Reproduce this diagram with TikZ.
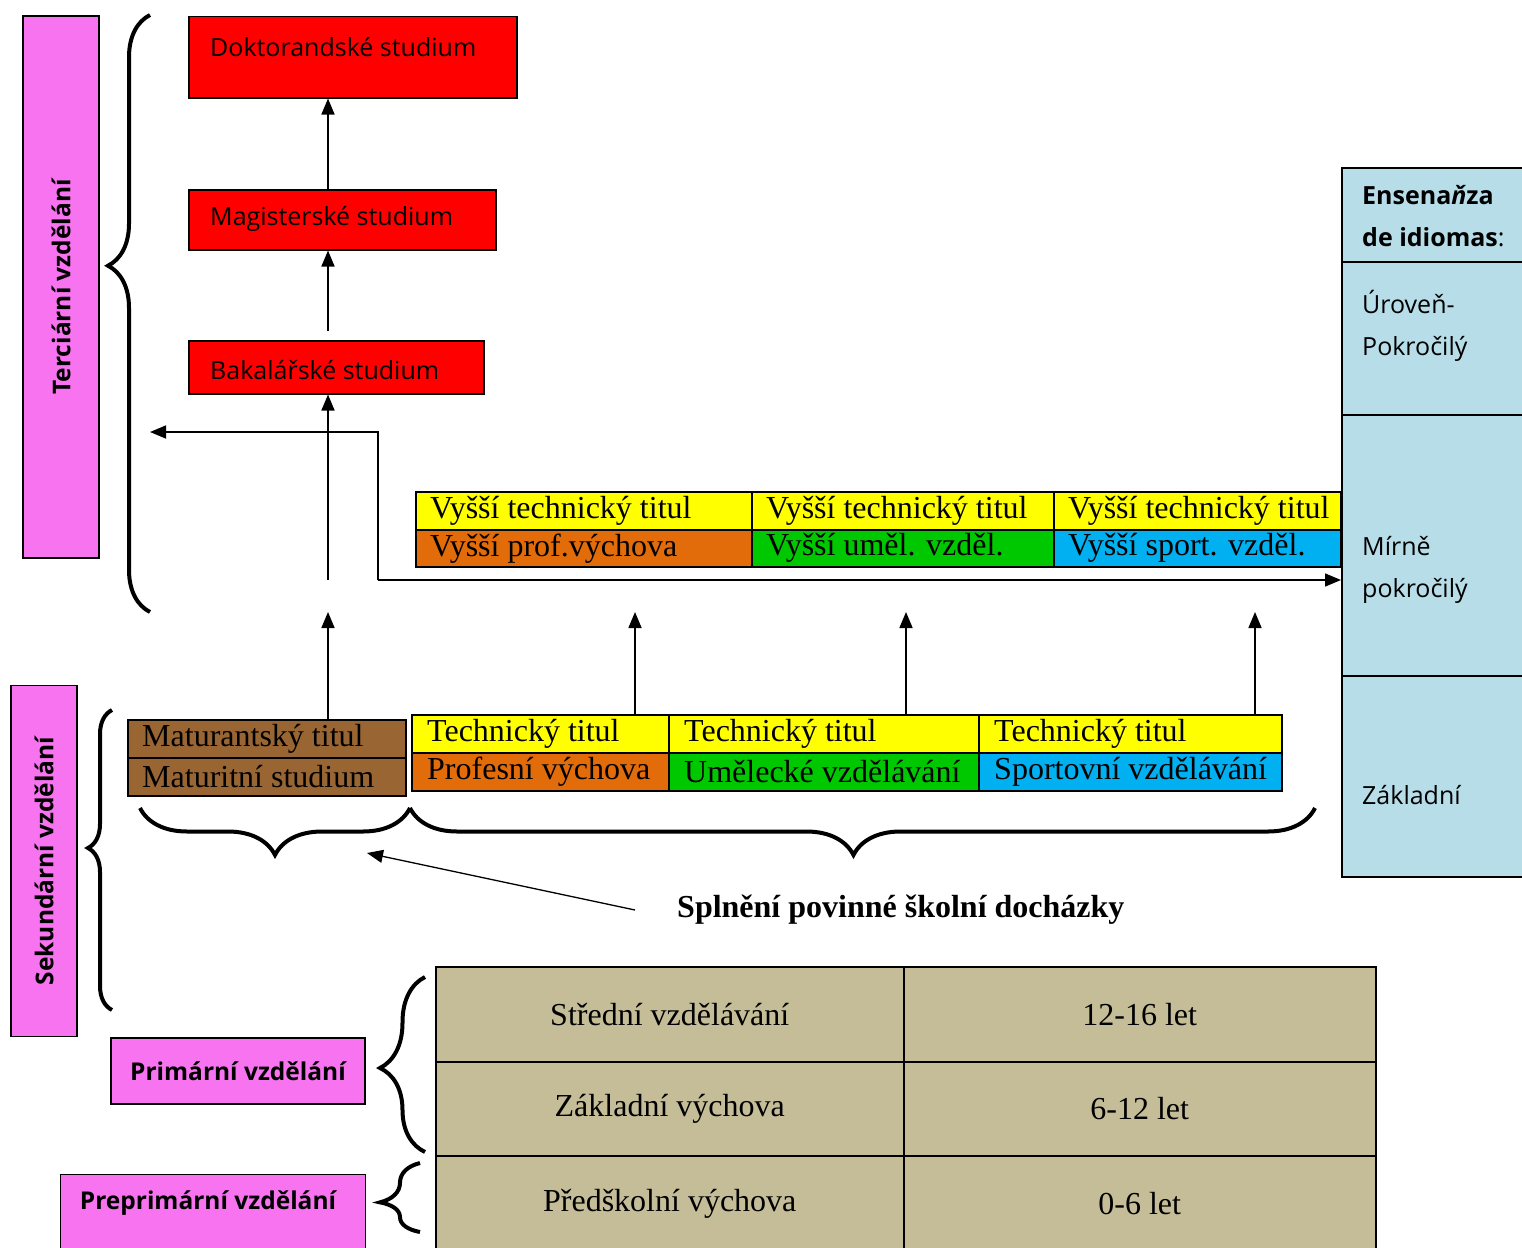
\documentclass[tikz,border=0pt]{standalone}
\usepackage{fontspec}
\setmainfont{Liberation Serif}
\setsansfont{Open Sans}
\usetikzlibrary{arrows.meta,decorations.pathreplacing}

\definecolor{ruzova}{RGB}{247,115,239}
\definecolor{cervena}{RGB}{255,0,0}
\definecolor{zluta}{RGB}{255,255,0}
\definecolor{oranzova}{RGB}{227,108,10}
\definecolor{zelena}{RGB}{0,200,0}
\definecolor{modra}{RGB}{0,176,240}
\definecolor{hneda}{RGB}{153,102,51}
\definecolor{bezova}{RGB}{196,189,151}
\definecolor{svetlemodra}{RGB}{183,221,232}

\tikzset{
  cell/.style={draw, line width=1.5pt, anchor=north west, inner sep=0pt},
  pinkbox/.style={draw, line width=1.2pt, fill=ruzova, inner sep=0pt},
  lbl/.style={anchor=west, inner sep=0pt},
  ser/.style={font=\fontsize{32}{37}\selectfont},
  sans/.style={font=\sffamily\fontsize{25}{30}\selectfont},
  boldsans/.style={font=\sffamily\bfseries\fontsize{24.5}{29}\selectfont},
  arr/.style={-{Triangle[length=16pt,width=13pt]}, line width=1.6pt},
  zavorka/.style={decorate, line width=4pt},
}

\begin{document}
\begin{tikzpicture}[x=1pt, y=-1pt]
    \useasboundingbox (0,0) rectangle (1522,1247);

    % Urovne vzdelani
    \node[pinkbox, boldsans, rotate=90, minimum width=542pt, minimum height=76pt] (terc) at (61,287) {Terciární vzdělání};
    \node[pinkbox, boldsans, rotate=90, minimum width=351pt, minimum height=66pt] (sek) at (44,861) {Sekundární vzdělání};
    \node[pinkbox, boldsans, minimum width=254pt, minimum height=66pt] (prim) at (238,1071) {Primární vzdělání};
    \node[pinkbox, anchor=north west, minimum width=305pt, minimum height=90pt] (preprim) at (60,1174) {};
    \node[boldsans, inner sep=0pt] (preprimtxt) at (208,1203) {Preprimární vzdělání};

    % Terciarni studium
    \node[cell, fill=cervena, minimum width=328pt, minimum height=81pt] (dok) at (188,16) {};
    \node[cell, fill=cervena, minimum width=307pt, minimum height=60pt] (mag) at (188,189) {};
    \node[cell, fill=cervena, minimum width=295pt, minimum height=53pt] (bak) at (188,340) {};
    \node[lbl, sans] (doktxt) at (210,47) {Doktorandské studium};
    \node[lbl, sans] (magtxt) at (210,219) {Magisterské studium};
    \node[lbl, sans] (baktxt) at (210,370) {Bakalářské studium};

    % Vyssi odborne
    \node[cell, fill=zluta, minimum width=336pt, minimum height=38pt] (vt1) at (415,491) {};
    \node[cell, fill=zluta, minimum width=302pt, minimum height=38pt] (vt2) at (751,491) {};
    \node[cell, fill=zluta, minimum width=287pt, minimum height=38pt] (vt3) at (1053,491) {};
    \node[cell, fill=oranzova, minimum width=336pt, minimum height=37pt] (vv1) at (415,529) {};
    \node[cell, fill=zelena, minimum width=302pt, minimum height=37pt] (vv2) at (751,529) {};
    \node[cell, fill=modra, minimum width=287pt, minimum height=37pt] (vv3) at (1053,529) {};
    \foreach \n in {vt1,vt2,vt3}
        \node[lbl, ser] (\n txt) at ([xshift=15pt]\n.west) {Vyšší technický titul};
    \node[lbl, ser] (vv1txt) at ([xshift=15pt]vv1.west) {Vyšší prof.výchova};
    \node[lbl, ser] (vv2txt) at ([xshift=15pt]vv2.west) {Vyšší uměl. vzděl.};
    \node[lbl, ser] (vv3txt) at ([xshift=15pt]vv3.west) {Vyšší sport. vzděl.};

    % Stredni vzdelani
    \node[cell, fill=hneda, minimum width=278pt, minimum height=38pt] (mat1) at (127,719) {};
    \node[cell, fill=hneda, minimum width=278pt, minimum height=38pt] (mat2) at (127,757) {};
    \node[lbl, ser] (mat1txt) at ([xshift=15pt]mat1.west) {Maturantský titul};
    \node[lbl, ser] (mat2txt) at ([xshift=15pt]mat2.west) {Maturitní studium};

    \node[cell, fill=zluta, minimum width=257pt, minimum height=38pt] (tt1) at (411,714) {};
    \node[cell, fill=zluta, minimum width=310pt, minimum height=38pt] (tt2) at (668,714) {};
    \node[cell, fill=zluta, minimum width=303pt, minimum height=38pt] (tt3) at (978,714) {};
    \node[cell, fill=oranzova, minimum width=257pt, minimum height=38pt] (tv1) at (411,752) {};
    \node[cell, fill=zelena, minimum width=310pt, minimum height=38pt] (tv2) at (668,752) {};
    \node[cell, fill=modra, minimum width=303pt, minimum height=38pt] (tv3) at (978,752) {};
    \foreach \n in {tt1,tt2,tt3}
        \node[lbl, ser] (\n txt) at ([xshift=16pt]\n.west) {Technický titul};
    \node[lbl, ser] (tv1txt) at ([xshift=16pt]tv1.west) {Profesní výchova};
    \node[lbl, ser] (tv2txt) at ([xshift=16pt]tv2.west) {Umělecké vzdělávání};
    \node[lbl, ser] (tv3txt) at ([xshift=16pt]tv3.west) {Sportovní vzdělávání};

    % Jazykove vzdelani
    \node[cell, fill=svetlemodra, minimum width=200pt, minimum height=94pt] (jaz) at (1341,167) {};
    \node[cell, fill=svetlemodra, minimum width=200pt, minimum height=153pt] (jaz1) at (1341,261) {};
    \node[cell, fill=svetlemodra, minimum width=200pt, minimum height=261pt] (jaz2) at (1341,414) {};
    \node[cell, fill=svetlemodra, minimum width=200pt, minimum height=201pt] (jaz3) at (1341,675) {};
    \node[lbl, align=left, font=\sffamily\fontsize{25}{42}\selectfont] (jaztxt) at (1362,216) {\textbf{Ensena\textit{ň}za}\\\textbf{de idiomas}:};
    \node[lbl, align=left, font=\sffamily\fontsize{25}{42}\selectfont] (jaz1txt) at (1362,326) {Úroveň-\\Pokročilý};
    \node[lbl, align=left, font=\sffamily\fontsize{25}{42}\selectfont] (jaz2txt) at (1362,570) {Mírně\\pokročilý};
    \node[lbl, sans] (jaz3txt) at (1362,795) {Základní};

    % Povinna skolni dochazka
    \node[cell, fill=bezova, minimum width=468pt, minimum height=95pt, ser] (sv) at (435,966) {Střední vzdělávání};
    \node[cell, fill=bezova, minimum width=472pt, minimum height=95pt, ser] (svr) at (903,966) {12-16 let};
    \node[cell, fill=bezova, minimum width=468pt, minimum height=94pt, ser] (zv) at (435,1061) {Základní výchova};
    \node[cell, fill=bezova, minimum width=472pt, minimum height=94pt, ser] (zvr) at (903,1061) {6-12 let};
    \node[cell, fill=bezova, minimum width=468pt, minimum height=96pt, ser] (pv) at (435,1155) {Předškolní výchova};
    \node[cell, fill=bezova, minimum width=472pt, minimum height=96pt, ser] (pvr) at (903,1155) {0-6 let};
    \node[lbl, font=\bfseries\fontsize{32}{37}\selectfont] (spl) at (677,910) {Splnění povinné školní docházky};

    % Sipky
    \coordinate (s1) at (328,580);
    \coordinate (s2) at (328,612);
    \coordinate (a1) at (635,612);
    \coordinate (a2) at (906,612);
    \coordinate (a3) at (1255,612);
    \coordinate (e) at (378,580);
    \coordinate (tl) at (150,432);
    \coordinate (sb) at (367,853);
    \draw[arr] (mag.north -| s1) -- (dok.south -| s1);
    \draw[arr] ([yshift=9pt]bak.north -| s1) -- (mag.south -| s1);
    \draw[arr] (s1) -- (bak.south -| s1);
    \draw[arr] (mat1.north -| s2) -- (s2);
    \draw[arr] (tt1.north -| a1) -- (a1);
    \draw[arr] (tt2.north -| a2) -- (a2);
    \draw[arr] (tt3.north -| a3) -- (a3);
    \draw[arr] (e) |- (tl);
    \draw[arr] (e) -- (e -| jaz2.west);
    \draw[arr, line width=1.3pt] ([xshift=-42pt]spl.west) -- (sb);

    % Zavorky
    \draw[zavorka, decoration={brace, amplitude=42pt, aspect=0.58}] (150,612) -- (150,15);
    \draw[zavorka, decoration={brace, amplitude=24pt, aspect=0.54}] (112,1010) -- (112,710);
    \draw[zavorka, decoration={brace, amplitude=45pt, aspect=0.48}] (425,1152) -- (425,977);
    \draw[zavorka, decoration={brace, amplitude=40pt, aspect=0.43}] (420,1232) -- (420,1163);
    \draw[zavorka, decoration={brace, amplitude=47pt, aspect=0.5}] (410,808) -- (140,808);
    \draw[zavorka, decoration={brace, amplitude=47pt, aspect=0.51}] (1315,808) -- (410,808);
\end{tikzpicture}
\end{document}
